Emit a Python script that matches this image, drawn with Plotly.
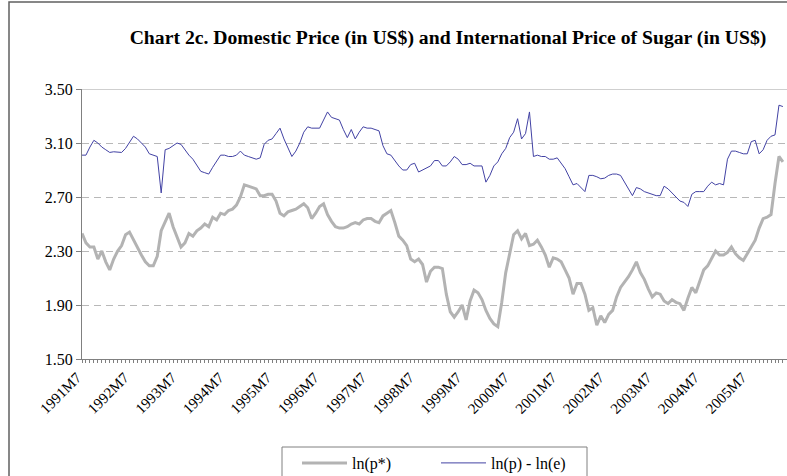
import plotly.graph_objects as go

# categories: monthly, 1991M7 .. 2006M4
months = []
y, m = 1991, 7
for _ in range(178):
    months.append(f"{y}M{m}")
    m += 1
    if m > 12:
        m = 1
        y += 1

ln_p_star = [
    2.43, 2.36, 2.33, 2.33, 2.24, 2.30, 2.22, 2.16, 2.24, 2.30,
    2.34, 2.42, 2.44, 2.38, 2.33, 2.27, 2.22, 2.19, 2.19, 2.26,
    2.45, 2.52, 2.58, 2.48, 2.40, 2.33, 2.36, 2.43, 2.41, 2.45,
    2.47, 2.50, 2.48, 2.55, 2.53, 2.58, 2.57, 2.60, 2.61, 2.64,
    2.70, 2.79, 2.78, 2.77, 2.76, 2.71, 2.71, 2.72, 2.72, 2.67,
    2.58, 2.56, 2.59, 2.60, 2.61, 2.63, 2.65, 2.62, 2.54, 2.58,
    2.63, 2.65, 2.57, 2.52, 2.48, 2.47, 2.47, 2.48, 2.50, 2.51,
    2.50, 2.53, 2.54, 2.54, 2.52, 2.51, 2.56, 2.58, 2.60, 2.51,
    2.41, 2.38, 2.34, 2.24, 2.22, 2.24, 2.20, 2.07, 2.15, 2.18,
    2.18, 2.17, 1.98, 1.85, 1.81, 1.85, 1.90, 1.79, 1.93, 2.01,
    1.99, 1.94, 1.86, 1.80, 1.76, 1.74, 1.92, 2.14, 2.28, 2.42,
    2.45, 2.39, 2.43, 2.34, 2.35, 2.38, 2.33, 2.27, 2.18, 2.25,
    2.24, 2.22, 2.16, 2.10, 1.98, 2.06, 2.06, 1.98, 1.86, 1.88,
    1.75, 1.82, 1.77, 1.83, 1.86, 1.96, 2.03, 2.07, 2.11, 2.16,
    2.22, 2.14, 2.09, 2.02, 1.96, 1.99, 1.98, 1.93, 1.91, 1.94,
    1.92, 1.91, 1.86, 1.95, 2.03, 1.99, 2.08, 2.16, 2.19, 2.24,
    2.30, 2.27, 2.27, 2.29, 2.33, 2.28, 2.25, 2.23, 2.28, 2.32,
    2.38, 2.47, 2.54, 2.55, 2.57, 2.80, 3.00, 2.96,
]

ln_p_minus_ln_e = [
    3.01, 3.01, 3.07, 3.12, 3.10, 3.07, 3.05, 3.03, 3.035, 3.03,
    3.03, 3.06, 3.11, 3.15, 3.13, 3.10, 3.07, 3.02, 3.01, 3.00,
    2.73, 3.05, 3.06, 3.08, 3.10, 3.09, 3.05, 3.01, 2.98, 2.93,
    2.89, 2.88, 2.87, 2.92, 2.97, 3.01, 3.01, 3.00, 3.00, 3.01,
    3.04, 3.01, 3.00, 2.99, 2.98, 2.99, 3.09, 3.12, 3.13, 3.17,
    3.21, 3.13, 3.06, 3.00, 3.04, 3.10, 3.18, 3.22, 3.21, 3.21,
    3.21, 3.27, 3.33, 3.29, 3.28, 3.27, 3.20, 3.14, 3.20, 3.13,
    3.18, 3.22, 3.21, 3.21, 3.20, 3.19, 3.08, 3.02, 3.01, 2.97,
    2.93, 2.90, 2.90, 2.94, 2.95, 2.885, 2.90, 2.91, 2.93, 2.97,
    2.97, 2.93, 2.93, 2.96, 3.00, 2.98, 2.94, 2.94, 2.95, 2.93,
    2.93, 2.93, 2.81, 2.86, 2.93, 2.96, 3.02, 3.06, 3.14, 3.18,
    3.28, 3.13, 3.17, 3.33, 3.00, 3.01, 3.00, 3.00, 2.98, 2.98,
    2.99, 2.95, 2.91, 2.85, 2.79, 2.80, 2.77, 2.74, 2.86, 2.86,
    2.85, 2.835, 2.84, 2.86, 2.87, 2.87, 2.86, 2.81, 2.76, 2.71,
    2.77, 2.76, 2.74, 2.73, 2.72, 2.71, 2.71, 2.78, 2.76, 2.73,
    2.70, 2.67, 2.66, 2.63, 2.72, 2.74, 2.74, 2.74, 2.78, 2.81,
    2.79, 2.80, 2.79, 2.98, 3.04, 3.04, 3.03, 3.02, 3.02, 3.11,
    3.12, 3.02, 3.05, 3.12, 3.15, 3.16, 3.38, 3.37,
]

y_ticks = [1.50, 1.90, 2.30, 2.70, 3.10, 3.50]
tick_labels = [mm if mm.endswith("M7") else "" for mm in months]

SERIF = "'Times New Roman', 'Liberation Serif', 'DejaVu Serif', serif"

fig = go.Figure()
fig.add_trace(go.Scatter(x=months, y=ln_p_star, mode="lines", name="ln(p*)",
                         line=dict(color="#b3b3b3", width=3), legend="legend"))
fig.add_trace(go.Scatter(x=months, y=ln_p_minus_ln_e, mode="lines", name="ln(p) - ln(e)",
                         line=dict(color="#4242a4", width=1), legend="legend2"))

W, H = 787, 476
L, R, T, B = 82, 0, 89, 117
pw, ph = W - L - R, H - T - B

def px_x(v):
    return (v - L) / pw

def px_y(v):
    return (H - B - v) / ph

leg_common = dict(orientation="h", xanchor="left", yanchor="top",
                  borderwidth=0, bgcolor="rgba(0,0,0,0)",
                  font=dict(family=SERIF, size=16), itemwidth=45)

fig.update_layout(
    width=W, height=H,
    margin=dict(l=L, r=R, t=T, b=B, autoexpand=False),
    paper_bgcolor="white", plot_bgcolor="white",
    font=dict(family=SERIF, color="#000000"),
    title=dict(text="<b>Chart 2c. Domestic Price (in US$) and International Price of Sugar (in US$)</b>",
               x=448 / W, xanchor="center", y=1 - 37 / H, yanchor="middle",
               font=dict(family=SERIF, size=19.7, color="#000000")),
    showlegend=True,
    legend=dict(x=px_x(297), y=px_y(446), **leg_common),
    legend2=dict(x=px_x(436), y=px_y(446), **leg_common),
    xaxis=dict(type="category", range=[0, pw / 3.96], automargin=False,
               tickmode="array", tickvals=months, ticktext=tick_labels,
               tickangle=-45, ticks="outside", ticklen=3, tickcolor="#808080",
               tickfont=dict(family=SERIF, size=15), ticklabelshift=-5,
               showline=True, linecolor="#808080", linewidth=1,
               showgrid=False, zeroline=False),
    yaxis=dict(range=[1.5, 3.5], tickmode="array", tickvals=y_ticks, automargin=False,
               ticktext=[f"{v:.2f}" for v in y_ticks],
               ticks="outside", ticklen=5, tickcolor="#808080",
               tickfont=dict(family=SERIF, size=16),
               showline=True, linecolor="#808080", linewidth=1,
               showgrid=True, gridcolor="#b8b8b8", griddash="7px,5px", gridwidth=1,
               zeroline=False),
    shapes=[
        dict(type="line", xref="paper", yref="y", x0=0, x1=1, y0=3.5, y1=3.5,
             line=dict(color="#a0a0a0", width=1)),
        dict(type="rect", xref="paper", yref="paper",
             x0=px_x(9), x1=px_x(W + 5), y0=px_y(H + 5), y1=px_y(2),
             line=dict(color="#606060", width=1.5), fillcolor="rgba(0,0,0,0)", layer="below"),
        dict(type="rect", xref="paper", yref="paper",
             x0=px_x(282), x1=px_x(587), y0=px_y(H + 5), y1=px_y(447),
             line=dict(color="#808080", width=1), fillcolor="white", layer="below"),
    ],
)

fig.write_html("out.html", config={"displayModeBar": False},
               post_script="document.body.style.margin='0';document.body.style.padding='0';")
